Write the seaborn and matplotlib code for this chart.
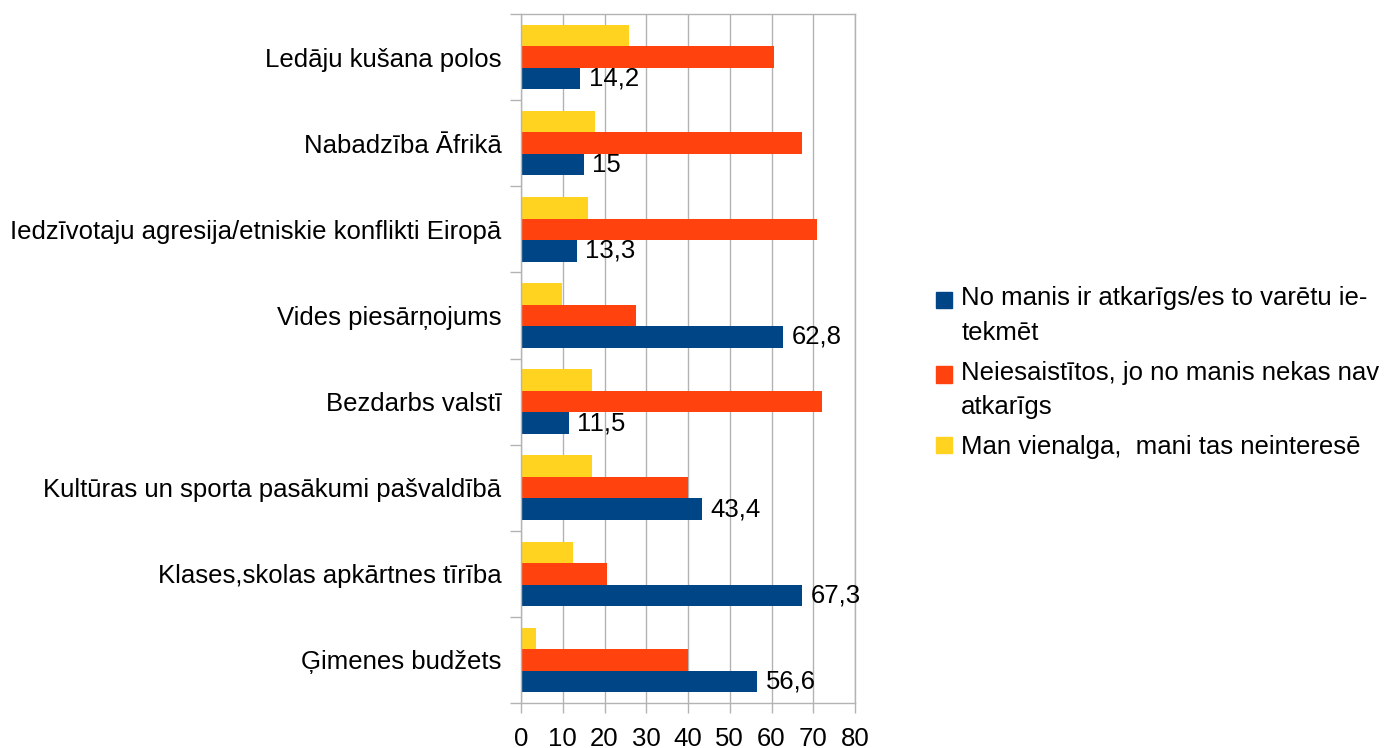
import matplotlib
matplotlib.use("Agg")
import matplotlib.pyplot as plt
import seaborn as sns
import pandas as pd
import numpy as np
from matplotlib.ticker import FixedLocator
from matplotlib.legend_handler import HandlerPatch
from matplotlib.patches import Rectangle

categories = [
    "Ledāju kušana polos",
    "Nabadzība Āfrikā",
    "Iedzīvotaju agresija/etniskie konflikti Eiropā",
    "Vides piesārņojums",
    "Bezdarbs valstī",
    "Kultūras un sporta pasākumi pašvaldībā",
    "Klases,skolas apkārtnes tīrība",
    "Ģimenes budžets",
]
series_names = [
    "No manis ir atkarīgs/es to varētu ie-\ntekmēt",
    "Neiesaistītos, jo no manis nekas nav\natkarīgs",
    "Man vienalga,  mani tas neinteresē",
]
blue_vals = [14.2, 15, 13.3, 62.8, 11.5, 43.4, 67.3, 56.6]
red_vals = [60.5, 67.4, 71.0, 27.6, 72.0, 40.0, 20.6, 40.0]
yellow_vals = [25.9, 17.8, 16.1, 9.8, 17.0, 17.0, 12.5, 3.6]
colors = ["#004586", "#ff420e", "#ffd320"]
x_ticks = [0, 10, 20, 30, 40, 50, 60, 70, 80]

rows = []
for name, vals in zip(series_names, [blue_vals, red_vals, yellow_vals]):
    for c, v in zip(categories, vals):
        rows.append({"cat": c, "series": name, "value": v})
df = pd.DataFrame(rows)

sns.set_theme(style="white")
plt.rcParams["font.family"] = ["Liberation Sans", "DejaVu Sans"]
plt.rcParams["text.color"] = "black"
plt.rcParams["xtick.labelcolor"] = "black"
plt.rcParams["ytick.labelcolor"] = "black"

FS = 18.5
LSP = 1.55

fig = plt.figure(figsize=(13.88, 7.48), dpi=100)
ax = fig.add_axes([521 / 1388, 1 - 703 / 748, (855 - 521) / 1388, (703 - 14) / 748])

hue_order = series_names[::-1]
pal = dict(zip(series_names, colors))
sns.barplot(data=df, y="cat", x="value", hue="series", hue_order=hue_order,
            order=categories, palette=pal, orient="h", width=0.75, gap=0,
            saturation=1, linewidth=0, edgecolor="none", ax=ax, legend=False)

ax.set_xlim(0, 80)
ax.set_ylim(len(categories) - 0.5, -0.5)
ax.set_xlabel("")
ax.set_ylabel("")

grid_c = "#b3b3b3"
ax.set_xticks(x_ticks)
ax.set_xticklabels([str(t) for t in x_ticks], fontsize=FS, color="black")
ax.xaxis.grid(True, color=grid_c, linewidth=1)
ax.set_axisbelow(True)
ax.tick_params(axis="x", length=7, width=1, color=grid_c, pad=10, bottom=True)

ax.set_yticks(range(len(categories)))
ax.set_yticklabels(categories, fontsize=FS, color="black")
ax.tick_params(axis="y", which="major", length=0, pad=14, left=True)
ax.yaxis.set_minor_locator(FixedLocator(np.arange(-0.5, len(categories) + 0.5, 1)))
ax.tick_params(axis="y", which="minor", length=8, width=1, color=grid_c, left=True)

for s in ax.spines.values():
    s.set_color(grid_c)
    s.set_linewidth(1)

# data labels for blue series (last container = blue)
blue_container = ax.containers[-1]
ax.bar_label(blue_container, labels=[str(v).replace(".", ",") for v in blue_vals],
             padding=6, fontsize=FS, color="black")


def make_patch_func(nlines):
    shift = (nlines - 1) * 0.5 * LSP * FS * 0.8

    def f(legend, orig_handle, xdescent, ydescent, width, height, fontsize):
        return Rectangle((-xdescent, -ydescent + shift), width, height)
    return f


handles = [Rectangle((0, 0), 1, 1, color=c) for c in colors]
hmap = {h: HandlerPatch(patch_func=make_patch_func(n.count("\n") + 1))
        for h, n in zip(handles, series_names)}
leg = fig.legend(handles, series_names, loc="upper left", bbox_to_anchor=(926 / 1388, 1 - 276 / 748),
                 frameon=False, fontsize=FS, handlelength=0.62, handleheight=0.62,
                 handletextpad=0.35, labelspacing=0.62, borderpad=0.4, borderaxespad=0,
                 handler_map=hmap)
for t in leg.get_texts():
    t.set_linespacing(LSP)

fig.savefig("out.png", dpi=100)
